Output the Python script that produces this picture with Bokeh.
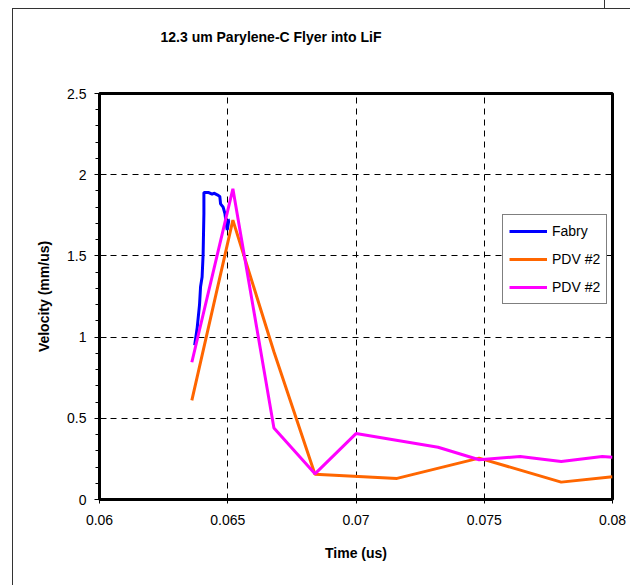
from bokeh.plotting import figure
from bokeh.models import FixedTicker, Legend, LegendItem, Title
from bokeh.embed import file_html
from bokeh.resources import INLINE

title_text = "12.3 um Parylene-C Flyer into LiF"
x_label = "Time (us)"
y_label = "Velocity (mm/us)"

x_ticks = [0.06, 0.065, 0.07, 0.075, 0.08]
x_tick_labels = ["0.06", "0.065", "0.07", "0.075", "0.08"]
y_ticks = [0.0, 0.5, 1.0, 1.5, 2.0, 2.5]
y_tick_labels = ["0", "0.5", "1", "1.5", "2", "2.5"]
y_minor = [0.1, 0.2, 0.3, 0.4, 0.6, 0.7, 0.8, 0.9, 1.1, 1.2, 1.3, 1.4,
           1.6, 1.7, 1.8, 1.9, 2.1, 2.2, 2.3, 2.4]

# Fabry series
fabry_t = [0.06371, 0.06381, 0.06390, 0.06394, 0.06400, 0.06404, 0.06407, 0.06407,
           0.06426, 0.06439, 0.06446, 0.06459, 0.06469, 0.06472, 0.06482, 0.06489,
           0.06494, 0.06498, 0.06504, 0.06508]
fabry_v = [0.95, 1.06, 1.20, 1.31, 1.37, 1.51, 1.76, 1.89,
           1.89, 1.88, 1.886, 1.876, 1.866, 1.82, 1.80, 1.76,
           1.70, 1.66, 1.72, 1.72]

# PDV #2 (orange)
pdv_a_t = [0.0636, 0.0652, 0.0668, 0.0684, 0.0716, 0.0748, 0.0780, 0.0800]
pdv_a_v = [0.61, 1.72, 0.91, 0.155, 0.13, 0.255, 0.107, 0.14]

# PDV #2 (magenta)
pdv_b_t = [0.0636, 0.0652, 0.0668, 0.0684, 0.0700, 0.0732, 0.0748, 0.0764, 0.0780, 0.0796, 0.0800]
pdv_b_v = [0.845, 1.913, 0.44, 0.158, 0.406, 0.322, 0.245, 0.265, 0.234, 0.265, 0.26]

FONT = "Liberation Sans"

p = figure(width=630, height=585, output_backend="svg", toolbar_location=None,
           x_range=(0.06, 0.08), y_range=(0, 2.5),
           min_border_left=99, min_border_right=18, min_border_top=93, min_border_bottom=86)
p.background_fill_color = "white"
p.border_fill_color = "white"
p.border_fill_alpha = 0
p.outline_line_color = "black"
p.outline_line_width = 3

# chart-area border lines drawn as the host background, seen through the transparent border fill
p.styles = {
    "background": ("linear-gradient(#333, #333) 12px 8px / 1px 577px no-repeat, "
                   "linear-gradient(#333, #333) 12px 8px / 618px 1px no-repeat, "
                   "linear-gradient(#333, #333) 604px 0px / 1px 8px no-repeat, "
                   "white"),
}

# spacer between frame and title, then the title itself
p.add_layout(Title(text=" ", text_font_size="14px", standoff=26), "above")
p.title.text = title_text
p.title.text_font = FONT
p.title.text_font_size = "14px"
p.title.text_font_style = "bold"
p.title.text_color = "black"
p.title.align = "left"
p.title.offset = 61
p.title.standoff = 10

# axes
p.xaxis.ticker = FixedTicker(ticks=x_ticks)
p.xaxis.major_label_overrides = dict(zip(x_ticks, x_tick_labels))
p.yaxis.ticker = FixedTicker(ticks=y_ticks, minor_ticks=y_minor)
p.yaxis.major_label_overrides = dict(zip(y_ticks, y_tick_labels))
for ax in (p.xaxis[0], p.yaxis[0]):
    ax.axis_line_color = "black"
    ax.axis_line_width = 3
    ax.major_tick_line_color = "black"
    ax.minor_tick_line_color = "black"
    ax.major_label_text_font = FONT
    ax.major_label_text_font_size = "14px"
    ax.major_label_text_color = "black"
    ax.axis_label_text_font = FONT
    ax.axis_label_text_font_size = "14px"
    ax.axis_label_text_font_style = "bold"
    ax.axis_label_text_color = "black"
p.xaxis.axis_label = x_label
p.yaxis.axis_label = y_label
p.xaxis.major_tick_out = 4
p.xaxis.major_tick_in = 0
p.xaxis.minor_tick_out = 0
p.xaxis.minor_tick_in = 0
p.xaxis.major_label_standoff = 11
p.xaxis.axis_label_standoff = 17
p.yaxis.major_tick_out = 5
p.yaxis.major_tick_in = 7
p.yaxis.minor_tick_out = 4
p.yaxis.minor_tick_in = 0
p.yaxis.major_label_standoff = 8
p.yaxis.axis_label_standoff = 12

# grid
for g in (p.xgrid[0], p.ygrid[0]):
    g.grid_line_color = "black"
    g.grid_line_dash = "6 5"
    g.grid_line_width = 1

r_fabry = p.line(fabry_t, fabry_v, line_color="#0000FF", line_width=3)
r_a = p.line(pdv_a_t, pdv_a_v, line_color="#FF6600", line_width=3)
r_b = p.line(pdv_b_t, pdv_b_v, line_color="#FF00FF", line_width=3)

legend = Legend(items=[LegendItem(label="Fabry", renderers=[r_fabry]),
                       LegendItem(label="PDV #2", renderers=[r_a]),
                       LegendItem(label="PDV #2", renderers=[r_b])],
                location=(403, 195))
legend.border_line_color = "black"
legend.border_line_width = 1
legend.background_fill_color = "white"
legend.background_fill_alpha = 1
legend.label_text_font = FONT
legend.label_text_font_size = "14px"
legend.label_text_color = "black"
legend.glyph_width = 38
legend.glyph_height = 20
legend.label_height = 20
legend.label_standoff = 5
legend.padding = 6
legend.spacing = 8
legend.margin = 0
p.add_layout(legend, "center")

open("out.html", "w").write(file_html(p, INLINE))
